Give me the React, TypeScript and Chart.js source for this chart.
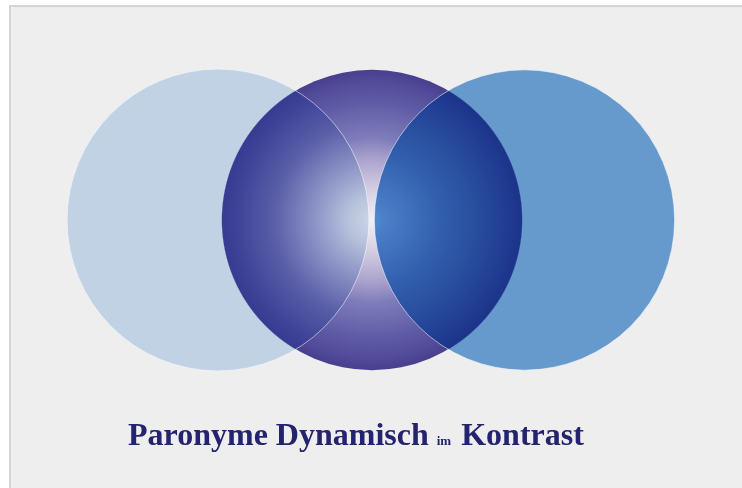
import React, { useEffect, useRef } from "react";
import { Chart, registerables } from "chart.js";

Chart.register(...registerables);

// ---- data ----
const circleNames = ["Paronym A", "Kontrast", "Paronym B"];
const circleX = [-1.0, 0, 0.99];
const circleY = [0, 0, 0];
const circleR = [0.98, 0.975, 0.975];

const titleMain = "Paronyme Dynamisch";
const titleSmall = "im";
const titleEnd = "Kontrast";

// ---- styles ----
const leftColor = "#c1d2e5";
const rightColor = "#6699cc";

function radiusPx(chart: any, i: number): number {
  const xs = chart.scales?.x;
  if (!xs || !xs.width) return 0;
  return Math.abs(xs.getPixelForValue(circleX[i] + circleR[i]) - xs.getPixelForValue(circleX[i]));
}

function midGeom(chart: any) {
  const xs = chart.scales?.x;
  const ys = chart.scales?.y;
  if (!xs || !ys || !xs.width) return null;
  return {
    cx: xs.getPixelForValue(circleX[1]),
    cy: ys.getPixelForValue(circleY[1]),
    r: radiusPx(chart, 1),
  };
}

function lensFill(ctx: any) {
  const g = midGeom(ctx.chart);
  if (!g) return "#6a62a8";
  const grad = ctx.chart.ctx.createRadialGradient(g.cx, g.cy, 0, g.cx, g.cy, g.r);
  grad.addColorStop(0, "#f2f0f6");
  grad.addColorStop(0.2, "#d6cfe2");
  grad.addColorStop(0.42, "#a8a0cc");
  grad.addColorStop(0.55, "#7e7cba");
  grad.addColorStop(0.8, "#5d5aa5");
  grad.addColorStop(0.93, "#514a98");
  grad.addColorStop(1, "#483f8e");
  return grad;
}

function overlapFill(ctx: any, side: "left" | "right") {
  const g = midGeom(ctx.chart);
  const base = side === "left" ? leftColor : rightColor;
  if (!g) return base;
  const G = g.r * 2;
  const grad = ctx.chart.ctx.createRadialGradient(g.cx, g.cy, 0, g.cx, g.cy, G);
  const edgeIn = 0.5 - 0.6 / G;
  const edgeOut = 0.5 + 0.6 / G;
  if (side === "left") {
    grad.addColorStop(0, "#cdd5e8");
    grad.addColorStop(0.075, "#b8c4dc");
    grad.addColorStop(0.2, "#8890c4");
    grad.addColorStop(0.325, "#5a5fa8");
    grad.addColorStop(0.45, "#3e4398");
    grad.addColorStop(edgeIn, "#373c92");
  } else {
    grad.addColorStop(0, "#5290d4");
    grad.addColorStop(0.04, "#4a80c8");
    grad.addColorStop(0.13, "#3f70bc");
    grad.addColorStop(0.22, "#3260ae");
    grad.addColorStop(0.33, "#2a50a0");
    grad.addColorStop(0.45, "#203c92");
    grad.addColorStop(edgeIn, "#1c348a");
  }
  grad.addColorStop(edgeOut, base);
  grad.addColorStop(1, base);
  return grad;
}

export default function App() {
  const canvasRef = useRef<HTMLCanvasElement | null>(null);

  useEffect(() => {
    if (!canvasRef.current) return;
    const unit = 154;
    const W = 742;
    const H = 488;
    const cxPx = 372;
    const cyPx = 220;
    const chart = new Chart(canvasRef.current, {
      type: "scatter",
      data: {
        datasets: [
          {
            label: circleNames[0],
            data: [{ x: circleX[0], y: circleY[0] }],
            pointRadius: (c: any) => radiusPx(c.chart, 0),
            pointBackgroundColor: (c: any) => overlapFill(c, "left"),
            pointBorderColor: "rgba(248,250,253,0.55)",
            pointBorderWidth: 1,
            clip: false,
          } as any,
          {
            label: circleNames[2],
            data: [{ x: circleX[2], y: circleY[2] }],
            pointRadius: (c: any) => radiusPx(c.chart, 2),
            pointBackgroundColor: (c: any) => overlapFill(c, "right"),
            pointBorderColor: "rgba(248,250,253,0.55)",
            pointBorderWidth: 1,
            clip: false,
          } as any,
          {
            label: circleNames[1],
            data: [{ x: circleX[1], y: circleY[1] }],
            pointRadius: (c: any) => radiusPx(c.chart, 1),
            pointBackgroundColor: (c: any) => lensFill(c),
            pointBorderWidth: 0,
            clip: false,
          } as any,
        ],
      },
      options: {
        responsive: false,
        animation: false,
        events: [],
        layout: { padding: 0, autoPadding: false } as any,
        plugins: {
          legend: { display: false },
          tooltip: { enabled: false },
          title: { display: false },
        },
        scales: {
          x: {
            type: "linear",
            display: false,
            min: -cxPx / unit,
            max: (W - cxPx) / unit,
          },
          y: {
            type: "linear",
            display: false,
            min: -(H - cyPx) / unit,
            max: cyPx / unit,
          },
        },
      },
    });
    return () => chart.destroy();
  }, []);

  return (
    <div
      style={{
        position: "absolute",
        left: 0,
        top: 0,
        width: 742,
        height: 488,
        background: "#ffffff",
        overflow: "hidden",
      }}
    >
      <div
        style={{
          position: "absolute",
          left: 9,
          top: 5,
          width: 740,
          height: 490,
          background: "#eeeeee",
          borderTop: "2px solid #d5d5d5",
          borderLeft: "2px solid #d5d5d5",
        }}
      />
      <canvas
        ref={canvasRef}
        width={742}
        height={488}
        style={{ position: "absolute", left: 0, top: 0, width: 742, height: 488 }}
      />
      <div
        style={{
          position: "absolute",
          left: 128,
          top: 414,
          whiteSpace: "nowrap",
          fontFamily: "'Liberation Serif', 'Times New Roman', serif",
          fontWeight: 700,
          fontSize: 32,
          lineHeight: "40px",
          color: "#24246e",
        }}
      >
        {titleMain}{" "}
        <span style={{ fontSize: 13, marginRight: 2 }}>{titleSmall}</span>{" "}
        {titleEnd}
      </div>
    </div>
  );
}
